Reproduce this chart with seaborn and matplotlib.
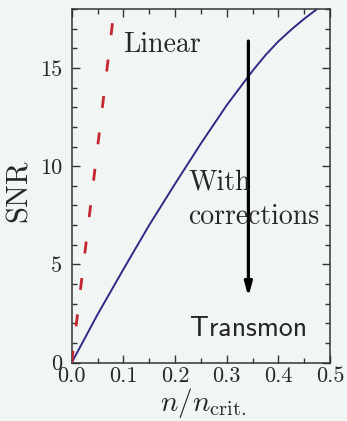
import matplotlib
matplotlib.use("Agg")
import matplotlib.pyplot as plt
import seaborn as sns
import numpy as np

# values
n_ratio = [0.0, 0.05, 0.10, 0.15, 0.20, 0.25, 0.30, 0.35, 0.375, 0.40,
           0.425, 0.45, 0.475]
snr_corrected = [0.0, 2.45, 4.75, 7.0, 9.1, 11.15, 13.1, 14.85, 15.65, 16.35,
                 16.95, 17.5, 18.0]

linear_x = [0.0, 0.0795]
linear_y = [0.0, 17.4]

arrow_x = 0.342
arrow_start = 16.37
arrow_end = 3.36

x_ticks = [0.0, 0.1, 0.2, 0.3, 0.4, 0.5]
y_ticks = [0, 5, 10, 15]

bg = "#F1F6F4"
blue = "#2E2A85"
red = "#C4262E"

sns.set_style("ticks")
plt.rcParams["mathtext.fontset"] = "cm"
plt.rcParams["axes.unicode_minus"] = False

fig = plt.figure(figsize=(3.47, 4.21), dpi=100, facecolor=bg)
ax = fig.add_axes([0.2066, 0.1385, 0.7444, 0.8401])
ax.set_facecolor(bg)

sns.lineplot(x=n_ratio, y=snr_corrected, ax=ax, color=blue, lw=1.4,
             estimator=None, zorder=2)
# dashed linear estimate sits on top of the blue curve
sns.lineplot(x=linear_x, y=linear_y, ax=ax, color=red, lw=2.0,
             linestyle=(0, (4.3, 8.9)), estimator=None, zorder=3)

ax.annotate("", xy=(arrow_x, arrow_end), xytext=(arrow_x, arrow_start),
            arrowprops=dict(arrowstyle="-|>,head_length=0.8,head_width=0.22",
                            lw=2.3, color="black", shrinkA=0, shrinkB=0))

serif = "cmr10"
ax.text(0.099, 15.8, "Linear", fontfamily=serif, fontsize=20, va="baseline")
ax.text(0.2255, 8.82, "With", fontfamily=serif, fontsize=20, va="baseline")
ax.text(0.2245, 7.05, "corrections", fontfamily=serif, fontsize=20, va="baseline")
ax.text(0.229, 1.36, "Transmon", fontfamily="cmss10", fontsize=20, va="baseline")

ax.set_xlim(0, 0.5)
ax.set_ylim(0, 18)
ax.set_xticks(x_ticks, labels=[f"{v:.1f}" for v in x_ticks])
ax.set_yticks(y_ticks, labels=[str(v) for v in y_ticks])
ax.set_xticks(np.arange(0, 0.51, 0.05), minor=True)
ax.set_yticks(np.arange(0, 18.1, 1), minor=True)
for lab in ax.get_xticklabels() + ax.get_yticklabels():
    lab.set_fontfamily(serif)
    lab.set_fontsize(16)

ax.tick_params(which="both", direction="in", top=True, right=True,
               color="#333333", width=1.0)
ax.tick_params(which="major", length=5.5)
ax.tick_params(which="minor", length=3.5)
ax.tick_params(axis="x", pad=3)
ax.tick_params(axis="y", pad=7)
for sp in ax.spines.values():
    sp.set_color("#333333")
    sp.set_linewidth(1.1)

ax.set_xlabel(r"$n/n_{\mathrm{crit.}}$", fontsize=21)
ax.set_ylabel("SNR", fontfamily=serif, fontsize=22)
ax.xaxis.set_label_coords(0.508, -0.066)
ax.yaxis.set_label_coords(-0.15, 0.485)

fig.savefig("out.png", dpi=100, facecolor=bg)
